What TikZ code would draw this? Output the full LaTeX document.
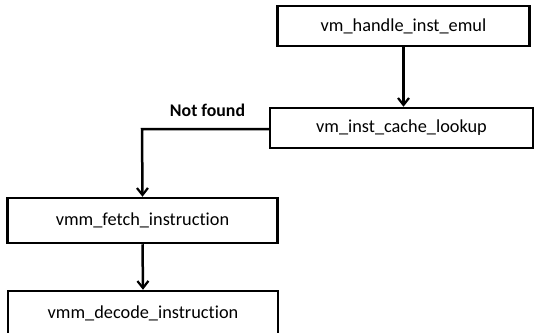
\documentclass[tikz,border=0pt]{standalone}
\usepackage{fontspec}
\setmainfont[Ligatures={NoCommon,TeX}]{Carlito}
\usetikzlibrary{arrows.meta}
\begin{document}
\begin{tikzpicture}[x=1pt,y=-1pt,
  fbox/.style={draw=black,line width=2.5pt,fill=white,inner sep=0pt,font=\fontsize{18.3}{22}\selectfont},
  conn/.style={line width=2.5pt,-{Straight Barb[length=7pt,width=11pt,line width=2.2pt]}}]
\useasboundingbox (0,0) rectangle (534,332);
\clip (0,0) rectangle (534,332);
\node[fbox,minimum width=252pt,minimum height=40pt] (a) at (403.5,26) {vm\_handle\_inst\_emul};
\node[fbox,minimum width=263pt,minimum height=40pt] (b) at (401.5,128) {vm\_inst\_cache\_lookup};
\node[fbox,minimum width=270pt,minimum height=45pt] (c) at (142.5,220.5) {vmm\_fetch\_instruction};
\node[fbox,minimum width=270pt,minimum height=44pt] (d) at (143,313) {vmm\_decode\_instruction};
\coordinate (k) at (142,129);
\draw[conn] (a.south) -- (a.south |- b.north);
\draw[conn] (b.west |- k) -- (k) -- (c.north);
\draw[conn] (c.south) -- (d.north);
\node[font=\bfseries\fontsize{17.8}{21}\selectfont,inner sep=0pt] (nf) at (207.5,110) {Not found};
\end{tikzpicture}
\end{document}
